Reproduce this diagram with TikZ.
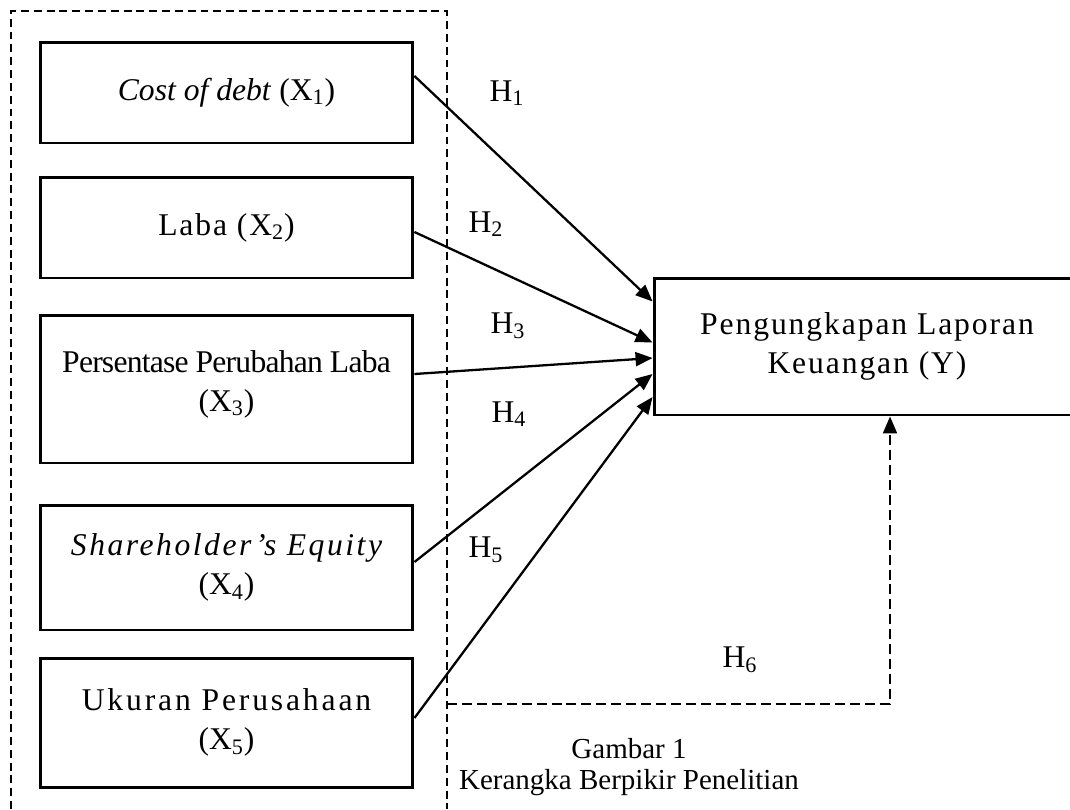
\documentclass[tikz,border=0pt]{standalone}
\usepackage{fontspec}
\setmainfont{Liberation Serif}
\newfontfamily\spaced[LetterSpace=6]{Liberation Serif}
\usetikzlibrary{arrows.meta,calc}

\tikzset{
  varbox/.style={draw,line width=1.7pt,minimum width=7.46cm,align=center,
    font=\fontsize{18}{22}\selectfont},
  hyparrow/.style={line width=1.3pt,-{Triangle[length=0.34cm,width=0.28cm]}},
  hlabel/.style={font=\spaced\fontsize{18}{22}\selectfont},
}

\begin{document}
\begin{tikzpicture}[x=0.02cm,y=-0.02cm]
  \useasboundingbox (0,0) rectangle (1070,809);

  % dashed frame round the X variables
  \draw[line width=1.1pt,dash pattern=on 4.5pt off 2.8pt] (11,809) -- (11,11) -- (447,11) -- (447,809);

  % independent variables
  \node[varbox,minimum height=2.02cm] (x1) at (226.5,92.5) {\textit{Cost of debt} (X\textsubscript{1})};
  \node[varbox,minimum height=2.02cm] (x2) at (226.5,227.5) {\spaced Laba (X\textsubscript{2})};
  \node[varbox,minimum height=2.96cm] (x3) at (226.5,389) {{\addfontfeature{LetterSpace=-2.5}Persentase Perubahan Laba}\\(X\textsubscript{3})\\[-13pt]\mbox{}};
  \node[varbox,minimum height=2.5cm] (x4) at (226.5,567.5) {{\spaced\itshape\addfontfeature{LetterSpace=8}Shareholder’s Equity}\\(X\textsubscript{4})};
  \node[varbox,minimum height=2.58cm] (x5) at (226.5,722.5) {{\spaced\addfontfeature{LetterSpace=9}Ukuran Perusahaan}\\(X\textsubscript{5})};

  % dependent variable
  \node[varbox,minimum width=8.52cm,minimum height=2.74cm,font=\spaced\fontsize{18}{22}\selectfont] (y) at (867,346.5) {Pengungkapan Laporan\\Keuangan (Y)};

  % hypotheses
  \draw[hyparrow] ($(x1.east)+(0,-16.5)$) -- ($(y.west)+(0,-45)$);
  \draw[hyparrow] ($(x2.east)+(0,4.5)$) -- ($(y.west)+(0,-4)$);
  \draw[hyparrow] ($(x3.east)+(0,-15)$) -- ($(y.west)+(0,11.5)$);
  \draw[hyparrow] ($(x4.east)+(0,-5.5)$) -- ($(y.west)+(0,27.5)$);
  \draw[hyparrow] ($(x5.east)+(0,-4.5)$) -- ($(y.west)+(0,50.5)$);

  \coordinate (h6start) at (447,704);
  \draw[hyparrow,line width=1.2pt,dash pattern=on 5.7pt off 2.8pt] (h6start) -| ($(y.south)+(23,0)$);

  \node[hlabel] (h1) at (507,93) {H\textsubscript{1}};
  \node[hlabel] (h2) at (486,224) {H\textsubscript{2}};
  \node[hlabel] (h3) at (508,326) {H\textsubscript{3}};
  \node[hlabel] (h4) at (509,414) {H\textsubscript{4}};
  \node[hlabel] (h5) at (486,550) {H\textsubscript{5}};
  \node[hlabel] (h6) at (740,660) {H\textsubscript{6}};

  % caption
  \node[align=center,font=\fontsize{16.5}{17.6}\selectfont] (caption) at (629,767) {Gambar 1\\Kerangka Berpikir Penelitian};
\end{tikzpicture}
\end{document}
